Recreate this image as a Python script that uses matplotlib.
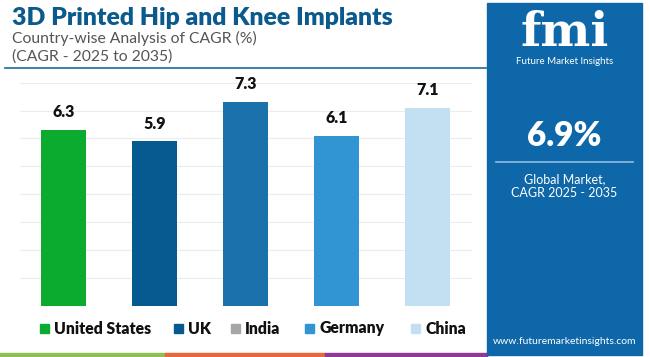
import matplotlib
matplotlib.use("Agg")
import matplotlib.pyplot as plt
from matplotlib.patches import Rectangle

categories = ["United States", "UK", "India", "Germany", "China"]
values = [6.3, 5.9, 7.3, 6.1, 7.1]
bar_colors = ["#0aab2e", "#065a8f", "#1a71ab", "#3194d3", "#c3e0f2"]
legend_colors = ["#0aab2e", "#065a8f", "#a6a6a6", "#3194d3", "#c3e0f2"]
yticks = [0, 1, 2, 3, 4, 5, 6, 7, 8]

W, H = 650, 357
fig = plt.figure(figsize=(6.5, 3.57), dpi=100)
fig.patch.set_facecolor("white")

def fx(px):
    return px / W

def fy(py):
    return 1 - py / H

plt.rcParams["font.family"] = ["Lato", "DejaVu Sans"]

# Axes
ax = fig.add_axes([fx(20), fy(305.7), fx(472) - fx(20), fy(82.7) - fy(305.7)])
x = list(range(len(categories)))
ax.bar(x, values, width=0.5, color=bar_colors, zorder=3)
ax.set_xlim(-0.478, 4.49)
ax.set_ylim(0, 8)
ax.set_yticks(yticks)
ax.yaxis.grid(True, color="#ececec", linewidth=0.8, zorder=0)
ax.set_axisbelow(True)
for s in ax.spines.values():
    s.set_visible(False)
ax.tick_params(left=False, bottom=False, labelleft=False, labelbottom=False)
for xi, v in zip(x, values):
    ax.annotate(f"{v}", (xi, v), xytext=(0, 7), textcoords="offset points",
                ha="center", va="bottom", fontsize=11.5, fontweight="heavy",
                color="#111111", clip_on=False)

# Title & subtitle
fig.text(fx(12), fy(18), "3D Printed Hip and Knee Implants", fontsize=17.8,
         fontweight="heavy", color="#0b5a8e", ha="left", va="center")
fig.text(fx(12), fy(38), "Country-wise Analysis of CAGR (%)", fontsize=11.3,
         color="#555555", ha="left", va="center")
fig.text(fx(12), fy(57), "(CAGR - 2025 to 2035)", fontsize=11.3,
         color="#555555", ha="left", va="center")
fig.add_artist(plt.Line2D([fx(5), fx(486)], [fy(67.5), fy(67.5)],
                          color="#2d76a8", linewidth=1.3))

# Legend (manual)
sq_x = [40, 174, 231, 305, 411]
for cx, lab, col in zip(sq_x, categories, legend_colors):
    fig.add_artist(Rectangle((fx(cx), fy(333)), fx(9), 9 / H, color=col,
                             transform=fig.transFigure))
    fig.text(fx(cx + 14), fy(328.5), lab, fontsize=11.3, fontweight="heavy",
             color="#111111", ha="left", va="center")

# Bottom stripes
for x0, x1, col in [(0, 165, "#8dc153"), (165, 325, "#e8673c"), (325, 487, "#8e3a96")]:
    fig.add_artist(Rectangle((fx(x0), 0), fx(x1 - x0), 4 / H, color=col,
                             transform=fig.transFigure))

# Right panel
px0, px1 = 487, 642
fig.add_artist(Rectangle((fx(px0), fy(355)), fx(px1 - px0), (355 - 3) / H,
                         color="#0e67a8", transform=fig.transFigure))
pcx = fx((px0 + px1) / 2)
fig.text(pcx, fy(33), "fmi", fontsize=34, fontweight="bold", family="DejaVu Serif",
         color="white", ha="center", va="center")
fig.text(pcx, fy(61), "Future Market Insights", fontsize=7, color="white",
         ha="center", va="center")
fig.text(pcx, fy(136), "6.9%", fontsize=24, fontweight="heavy", color="white",
         ha="center", va="center")
fig.add_artist(plt.Line2D([fx(496), fx(633)], [fy(162.5), fy(162.5)],
                          color="#8fbde0", linewidth=1.2))
fig.text(pcx, fy(179), "Global Market,", fontsize=9, color="white",
         ha="center", va="center")
fig.text(pcx, fy(193), "CAGR 2025 - 2035", fontsize=9, color="white",
         ha="center", va="center")
fig.text(fx(565), fy(341.5), "www.futuremarketinsights.com", fontsize=7.5,
         color="white", ha="center", va="center")

fig.savefig("out.png", dpi=100, facecolor="white")
